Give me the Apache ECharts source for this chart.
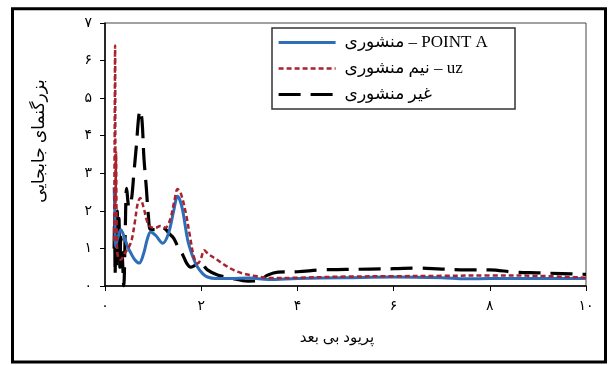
<!DOCTYPE html>
<html><head><meta charset="utf-8">
<script src="https://cdn.jsdelivr.net/npm/echarts@6/dist/echarts.min.js"></script>
<style>html,body{margin:0;padding:0;background:#fff}#c{width:608px;height:365px}</style>
</head><body><div id="c"></div>
<script>
// Series names
const seriesNames = ['منشوری – POINT A', 'نیم منشوری – uz', 'غیر منشوری'];
const xTitle = 'پریود بی بعد';
const yTitle = 'بزرگنمای جابجایی';
const persianDigits = ['۰','۱','۲','۳','۴','۵','۶','۷','۸','۹'];

// Blue: منشوری – POINT A
const periodA = [0.19,0.205,0.22,0.27,0.33,0.4,0.47,0.54,0.62,0.71,0.8,0.88,0.95,1.05,1.2,1.32,1.42,1.51,1.6,1.72,1.82,1.92,2.03,2.13,2.3,2.6,3.0,3.4,4.0,5.0,6.0,7.0,7.5,8.0,9.0,10.0];
const ampA    = [2.63,1.9,1.05,1.3,1.5,1.3,1.05,0.87,0.7,0.61,0.85,1.25,1.44,1.35,1.14,1.4,1.95,2.39,2.1,1.22,0.8,0.51,0.33,0.24,0.2,0.2,0.21,0.17,0.2,0.22,0.24,0.22,0.19,0.2,0.2,0.2];

// Red: نیم منشوری – uz
const periodB = [0.19,0.2,0.21,0.22,0.23,0.245,0.27,0.33,0.4,0.48,0.55,0.62,0.68,0.73,0.8,0.88,0.95,1.05,1.15,1.25,1.35,1.44,1.51,1.58,1.68,1.77,1.85,1.93,2.0,2.06,2.15,2.34,2.5,2.68,2.88,3.1,3.44,4.0,5.0,6.0,7.0,8.0,9.0,10.0];
const ampB    = [1.2,3.8,6.4,2.2,3.56,1.4,0.75,0.7,0.85,1.0,1.2,1.7,2.2,2.34,2.1,1.7,1.57,1.55,1.6,1.55,1.75,2.25,2.58,2.45,1.94,1.3,0.77,0.6,0.75,0.95,0.85,0.69,0.55,0.42,0.33,0.27,0.21,0.22,0.25,0.26,0.27,0.28,0.27,0.22];

// Black: غیر منشوری
const periodC = [0.19,0.2,0.21,0.225,0.24,0.255,0.27,0.29,0.31,0.33,0.36,0.39,0.42,0.45,0.5,0.55,0.6,0.65,0.7,0.73,0.77,0.81,0.86,0.9,0.95,1.05,1.15,1.25,1.33,1.43,1.53,1.62,1.7,1.78,1.88,1.99,2.13,2.34,2.62,2.97,3.2,3.38,3.6,4.0,4.5,5.0,5.5,6.0,6.5,7.0,7.5,8.0,8.5,9.0,9.5,10.0];
const ampC    = [1.0,1.9,0.3,1.6,0.5,2.0,0.8,1.8,0.5,1.3,0.8,0.0,1.4,2.6,2.1,2.3,3.0,3.7,4.5,4.68,4.4,3.4,2.6,1.9,1.5,1.5,1.57,1.52,1.4,1.27,1.0,0.82,0.6,0.5,0.55,0.6,0.43,0.29,0.21,0.13,0.14,0.29,0.37,0.38,0.43,0.44,0.45,0.46,0.48,0.45,0.43,0.43,0.37,0.35,0.33,0.31];

const zip = (xs, ys) => xs.map((x, i) => [x, ys[i]]);
const fa = v => String(v).replace(/\d/g, d => persianDigits[+d]);
const FONT = '"Liberation Serif", "DejaVu Sans", serif';
const legendWidths = [3, 2.5, 3.2];

const chart = echarts.init(document.getElementById('c'), null, {renderer: 'canvas'});
chart.setOption({
  animation: false,
  backgroundColor: '#fff',
  grid: {left: 105, right: 22, top: 23, bottom: 79, show: true, borderColor: '#444', borderWidth: 1, containLabel: false},
  legend: {
    show: true, orient: 'vertical', left: 277, top: 34, itemWidth: 57, itemHeight: 16, itemGap: 9,
    padding: 0,
    itemStyle: {opacity: 0},
    data: seriesNames.map((n, i) => ({name: n, lineStyle: {width: legendWidths[i]}})),
    textStyle: {fontFamily: FONT, fontSize: 17, color: '#000', padding: [0, 0, 0, 4]}
  },
  xAxis: {
    type: 'value', min: 0, max: 10, interval: 2,
    axisLine: {show: true, lineStyle: {color: '#000', width: 1.5}},
    axisTick: {show: true, length: 5, lineStyle: {color: '#000'}},
    axisLabel: {formatter: fa, fontFamily: FONT, fontSize: 14, color: '#000', margin: 13},
    splitLine: {show: false}
  },
  yAxis: {
    type: 'value', min: 0, max: 7, interval: 1,
    axisLine: {show: true, lineStyle: {color: '#000', width: 1.5}},
    axisTick: {show: true, length: 5, lineStyle: {color: '#000'}},
    axisLabel: {formatter: fa, fontFamily: FONT, fontSize: 14, color: '#000', margin: 13},
    splitLine: {show: false}
  },
  series: [
    {name: seriesNames[0], type: 'line', data: zip(periodA, ampA), smooth: 0.35, showSymbol: false, symbol: 'none',
     lineStyle: {color: '#2E6DB8', width: 3}, itemStyle: {color: '#2E6DB8'}, z: 3},
    {name: seriesNames[1], type: 'line', data: zip(periodB, ampB), smooth: 0.35, showSymbol: false, symbol: 'none',
     lineStyle: {color: '#A8232E', width: 2.5, type: [5, 3]}, itemStyle: {color: '#A8232E'}, z: 4},
    {name: seriesNames[2], type: 'line', data: zip(periodC, ampC), smooth: 0.35, showSymbol: false, symbol: 'none',
     lineStyle: {color: '#000', width: 3.2, type: [22, 10]}, itemStyle: {color: '#000'}, z: 2}
  ],
  graphic: [
    {type: 'rect', shape: {x: 12.5, y: 8.7, width: 593, height: 353.3}, style: {fill: null, stroke: '#000', lineWidth: 3}, silent: true},
    {type: 'rect', shape: {x: 272, y: 28, width: 243, height: 81}, style: {fill: null, stroke: '#333', lineWidth: 1.5}, silent: true, z: 10},
    {type: 'text', x: 40, y: 141, rotation: Math.PI / 2, style: {text: yTitle, font: '17px ' + FONT, fill: '#000', align: 'center', verticalAlign: 'middle'}},
    {type: 'text', x: 337, y: 338, style: {text: xTitle, font: '15px ' + FONT, fill: '#000', align: 'center', verticalAlign: 'middle'}}
  ]
});
</script></body></html>
